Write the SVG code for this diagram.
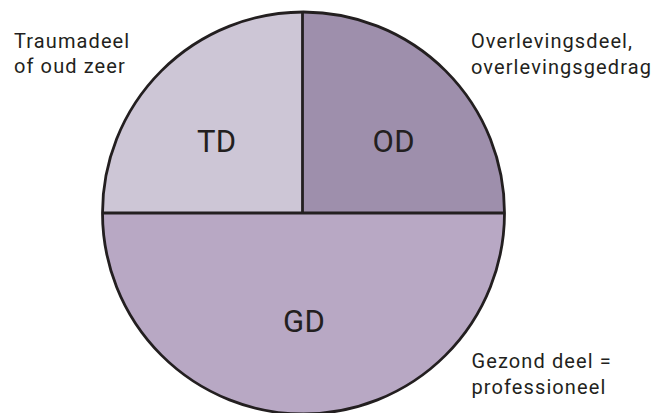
<svg xmlns="http://www.w3.org/2000/svg" width="671" height="413" viewBox="0 0 671 413">
<style>
.side{font-family:Roboto,"Liberation Sans",sans-serif;font-size:20px;letter-spacing:1.1px;fill:#231f20}
.big{font-family:Roboto,"Liberation Sans",sans-serif;font-size:31px;letter-spacing:0.3px;fill:#231f20}
.edge{stroke:#231f20;stroke-width:2.8;fill:none}
</style>
<rect width="671" height="413" fill="#ffffff"/>
<g id="TD">
<path d="M302.5,213 L102.5,213 A201,201 0 0 1 302.5,12 Z" fill="#cdc6d6"/>
<text class="big" x="197" y="152">TD</text>
</g>
<g id="OD">
<path d="M302.5,213 L302.5,12 A201,201 0 0 1 504.5,213 Z" fill="#9e8fac"/>
<text class="big" x="372.5" y="152">OD</text>
</g>
<g id="GD">
<path d="M102.5,213 A201,201 0 0 0 504.5,213 Z" fill="#b8a8c4"/>
<text class="big" x="283" y="332">GD</text>
</g>
<g id="connectors">
<circle class="edge" cx="303.5" cy="213" r="201"/>
<line class="edge" x1="102.5" y1="213" x2="504.5" y2="213"/>
<line class="edge" x1="302.5" y1="12" x2="302.5" y2="213"/>
</g>
<g id="labels">
<text class="side" x="14" y="47.5">Traumadeel</text>
<text class="side" x="14" y="73">of oud zeer</text>
<text class="side" x="471" y="48">Overlevingsdeel,</text>
<text class="side" x="471" y="73.5">overlevingsgedrag</text>
<text class="side" x="471.5" y="368">Gezond deel =</text>
<text class="side" x="471.5" y="394">professioneel</text>
</g>
</svg>
